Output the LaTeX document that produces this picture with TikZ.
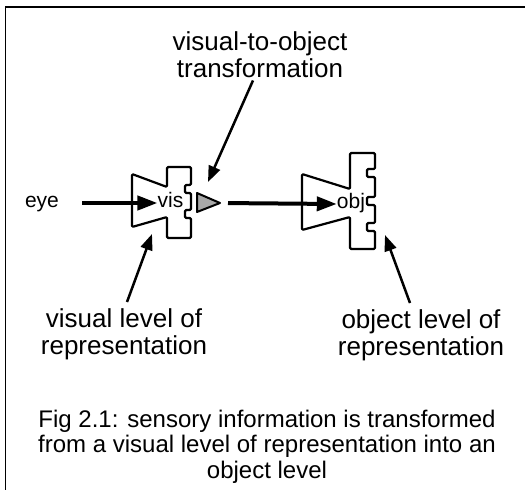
\documentclass[tikz,border=0pt]{standalone}
\usepackage{fontspec}
\setmainfont{Liberation Sans}
\usetikzlibrary{arrows.meta}

\begin{document}
\begin{tikzpicture}[
    x=1pt, y=-1pt,
    label/.style={align=center, inner sep=0pt, font=\fontsize{26}{27}\selectfont},
    caption/.style={align=center, inner sep=0pt, font=\fontsize{24}{25.5}\selectfont},
    small/.style={inner sep=0pt, text height=8pt, text depth=0pt, font=\fontsize{21}{24}\selectfont},
    outline/.style={draw, line width=2.2pt, rounded corners=1.2pt, line join=round},
    thickarrow/.style={line width=4pt, -{Triangle[length=20pt,width=14pt]}},
    pointer/.style={line width=2.5pt, -{Triangle[length=16pt,width=12pt]}}
]
\useasboundingbox (0,0) rectangle (525,490);

% Frame
\draw[line width=1.5pt] (5.5,490) -- (5.5,7) -- (525,7);

% Visual level
\draw[outline] (132,174) -- (167,187) -- (167,167) -- (191,167) -- (191,185) -- (185,185)
    -- (185,193) -- (191,193) -- (191,210) -- (185,210) -- (185,218) -- (191,218)
    -- (191,238) -- (167,238) -- (167,217) -- (132,227) -- cycle;

% Object level
\draw[outline] (302,174) -- (350,189) -- (350,153) -- (375,153) -- (375,169) -- (367,169)
    -- (367,177) -- (375,177) -- (375,197) -- (367,197) -- (367,205) -- (375,205)
    -- (375,223) -- (367,223) -- (367,231) -- (375,231) -- (375,249) -- (350,249)
    -- (350,217) -- (302,230) -- cycle;

% Transformation
\draw[line width=2pt, line join=round, fill=gray!68] (197,193) -- (220,203) -- (197,212) -- cycle;
\coordinate (xformtip) at (220,203);

% Points on the shapes
\coordinate (xformpoint) at (208,182);
\coordinate (vispoint) at (152,234);
\coordinate (objpoint) at (385,235);

% Texts
\node[small] (eye) at (42,203) {eye};
\node[small] (vis) at (170.5,203) {vis};
\node[small] (obj) at (351,204) {obj};

\node[label, anchor=north] (xformlabel) at (260,31) {visual-to-object\\transformation};
\node[label, anchor=north] (vislabel) at (124,308) {visual level of\\representation};
\node[label, anchor=north] (objlabel) at (421,309) {object level of\\representation};

\node[caption, anchor=north] (fig) at (267,409.5) {Fig 2.1: sensory information is transformed\\from a visual level of representation into an\\object level};

% Connections
\draw[thickarrow] ([xshift=23pt]eye.east) -- (vis.west);
\draw[thickarrow, shorten <=8pt] (xformtip) -- (obj.west);

\draw[pointer] ([shift={(-7,3)}]xformlabel.south) -- (xformpoint);
\draw[pointer] ([shift={(3,-6)}]vislabel.north) -- (vispoint);
\draw[pointer] ([shift={(-11,-6)}]objlabel.north) -- (objpoint);

\end{tikzpicture}
\end{document}
